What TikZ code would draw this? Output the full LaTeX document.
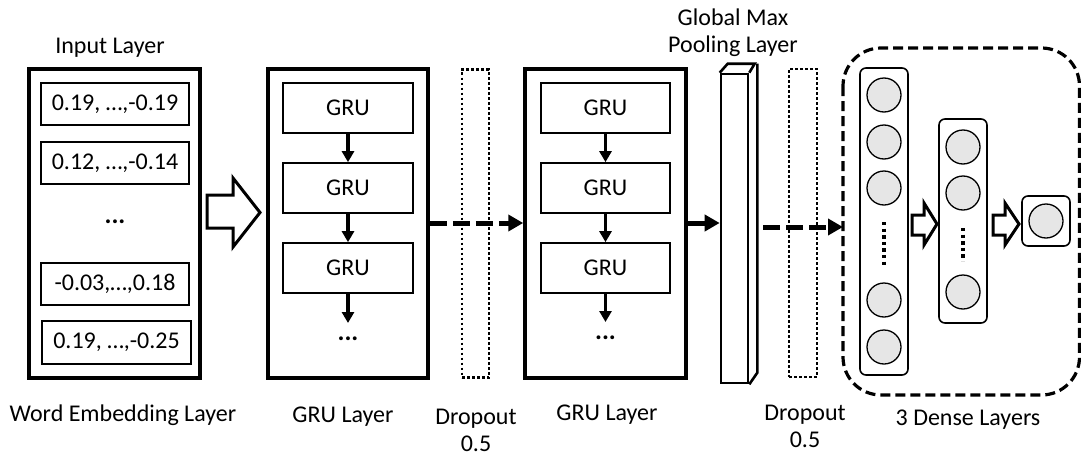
\documentclass[tikz,border=0pt]{standalone}
\usepackage{fontspec}
\setmainfont{Carlito}
\usetikzlibrary{arrows.meta}
\definecolor{cellgray}{HTML}{E6E6E6}
\begin{document}
\begin{tikzpicture}[x=1pt,y=-1pt,
  every node/.style={font=\fontsize{24}{27}\selectfont},
  layerbox/.style={draw, line width=3.5pt, inner sep=0pt},
  cellbox/.style={draw, line width=1.7pt, inner sep=0pt},
  dropbox/.style={draw, line width=2.6pt, dash pattern=on 2.6pt off 2.4pt, inner sep=0pt,
    minimum width=27pt, minimum height=308pt},
  densebox/.style={draw, line width=1.6pt, rounded corners=6pt, inner sep=0pt, minimum width=48pt},
  neuron/.style={draw, line width=1.3pt, circle, fill=cellgray, minimum size=34pt, inner sep=0pt},
  label/.style={inner sep=0pt, align=center},
  flow/.style={line width=3.2pt, -{Triangle[length=11pt,width=12pt]}},
  bigflow/.style={line width=5pt, -{Triangle[length=15pt,width=16pt]}},
  dropflow/.style={bigflow, dash pattern=on 17pt off 6pt},
  hollow/.style={draw, line width=3pt, fill=white, line join=miter},
  dotcol/.style={line width=3.6pt, dash pattern=on 3.4pt off 3.2pt},
  bigdots/.style={label, font=\fontsize{26}{27}\selectfont\bfseries}
]
\useasboundingbox (0,0) rectangle (1081,455);

% ---------- word embedding layer ----------
\node[layerbox, minimum width=171pt, minimum height=309pt] (emb) at (114.5,223.5) {};
\node[cellbox, minimum width=148pt, minimum height=42pt] (e1) at (115,104) {0.19, …,-0.19};
\node[cellbox, minimum width=148pt, minimum height=42pt] (e2) at (115,163) {0.12, …,-0.14};
\node[bigdots] (edots) at (115,222) {...};
\node[cellbox, minimum width=148pt, minimum height=42pt] (e3) at (115,284) {-0.03,…,0.18};
\node[cellbox, minimum width=149pt, minimum height=43pt] (e4) at (116.5,342.5) {0.19, …,-0.25};
\node[label] (embtop) at (110,48) {Input Layer};
\node[label] (embname) at (123,415) {Word Embedding Layer};

% hollow arrow into the first GRU layer
\draw[hollow] (207,195) -- (233,195) -- (233,178) -- (260,212.5) -- (233,247) -- (233,228) -- (207,228) -- cycle;

% ---------- first GRU layer ----------
\node[layerbox, minimum width=160pt, minimum height=309pt] (gruA) at (348,223.5) {};
\node[cellbox, minimum width=130pt, minimum height=50pt] (a1) at (348,108) {GRU};
\node[cellbox, minimum width=130pt, minimum height=50pt] (a2) at (348,188) {GRU};
\node[cellbox, minimum width=130pt, minimum height=50pt] (a3) at (348,268) {GRU};
\coordinate (a4) at (348,323);
\node[bigdots] (adots) at (348,339) {...};
\draw[flow] (a1.south) -- (a2.north);
\draw[flow] (a2.south) -- (a3.north);
\draw[flow] (a3.south) -- (a4);
\node[label] (gruAname) at (343,417) {GRU Layer};

% ---------- first dropout ----------
\node[dropbox] (dropA) at (475.5,223.5) {};
\node[label] (dropAname) at (476,430) {Dropout\\0.5};

% ---------- second GRU layer ----------
\node[layerbox, minimum width=161pt, minimum height=309pt] (gruB) at (605.5,223.5) {};
\node[cellbox, minimum width=129pt, minimum height=50pt] (b1) at (605.5,108) {GRU};
\node[cellbox, minimum width=129pt, minimum height=50pt] (b2) at (605.5,188) {GRU};
\node[cellbox, minimum width=129pt, minimum height=50pt] (b3) at (605.5,268) {GRU};
\coordinate (b4) at (605.5,322);
\node[bigdots] (bdots) at (605.5,338) {...};
\draw[flow] (b1.south) -- (b2.north);
\draw[flow] (b2.south) -- (b3.north);
\draw[flow] (b3.south) -- (b4);
\node[label] (gruBname) at (607,415) {GRU Layer};

\draw[dropflow] (gruA.east |- 0,223) -- (gruB.west |- 0,223);

% ---------- global max pooling (prism) ----------
\node[draw, line width=2.6pt, inner sep=0pt, minimum width=27pt, minimum height=309pt] (pool) at (734.5,228.5) {};
\draw[line width=2.6pt, line join=miter] (pool.north west) -- ++(8,-9) -- ++(27,0) -- (pool.north east);
\draw[line width=2.6pt, line join=miter] (pool.north east) ++(8,-9) -- ++(0,309) -- (pool.south east);
\node[label] (poolname) at (733,32.5) {Global Max\\Pooling Layer};
\draw[bigflow] (gruB.east |- 0,223) -- (pool.west |- 0,223);

% ---------- second dropout ----------
\node[dropbox, minimum width=28pt] (dropB) at (803,223) {};
\node[label] (dropBname) at (805,426.5) {Dropout\\0.5};

% ---------- dense block ----------
\draw[line width=3.2pt, dash pattern=on 10pt off 5pt, rounded corners=38pt]
  (843,48) rectangle (1079.5,395);
\coordinate (denseIn) at (843,227);
\coordinate (poolOut) at (763,227);
\draw[dropflow] (poolOut) -- (denseIn);

\node[densebox, minimum height=307pt] (d1) at (884,221.5) {};
\foreach \y/\n in {95/1,142/2,188/3,300/4,347/5}
  \node[neuron] (n1\n) at (884,\y) {};
\draw[dotcol] (n13.south |- 0,222) -- (n13.south |- 0,266);

\node[densebox, minimum height=204pt] (d2) at (963,221) {};
\foreach \y/\n in {147/1,193/2,292/3}
  \node[neuron] (n2\n) at (963,\y) {};
\draw[dotcol] (963,228) -- (963,261);

\node[densebox, minimum height=50pt] (d3) at (1046,221) {};
\node[neuron] (n31) at (1046,221) {};

\draw[hollow] (912,215) -- (924,215) -- (924,203) -- (937,224) -- (924,245) -- (924,235) -- (912,235) -- cycle;
\draw[hollow] (993,215) -- (1005,215) -- (1005,203) -- (1019,224) -- (1005,245) -- (1005,235) -- (993,235) -- cycle;

\node[label] (densename) at (968,420) {3 Dense Layers};
\end{tikzpicture}
\end{document}
